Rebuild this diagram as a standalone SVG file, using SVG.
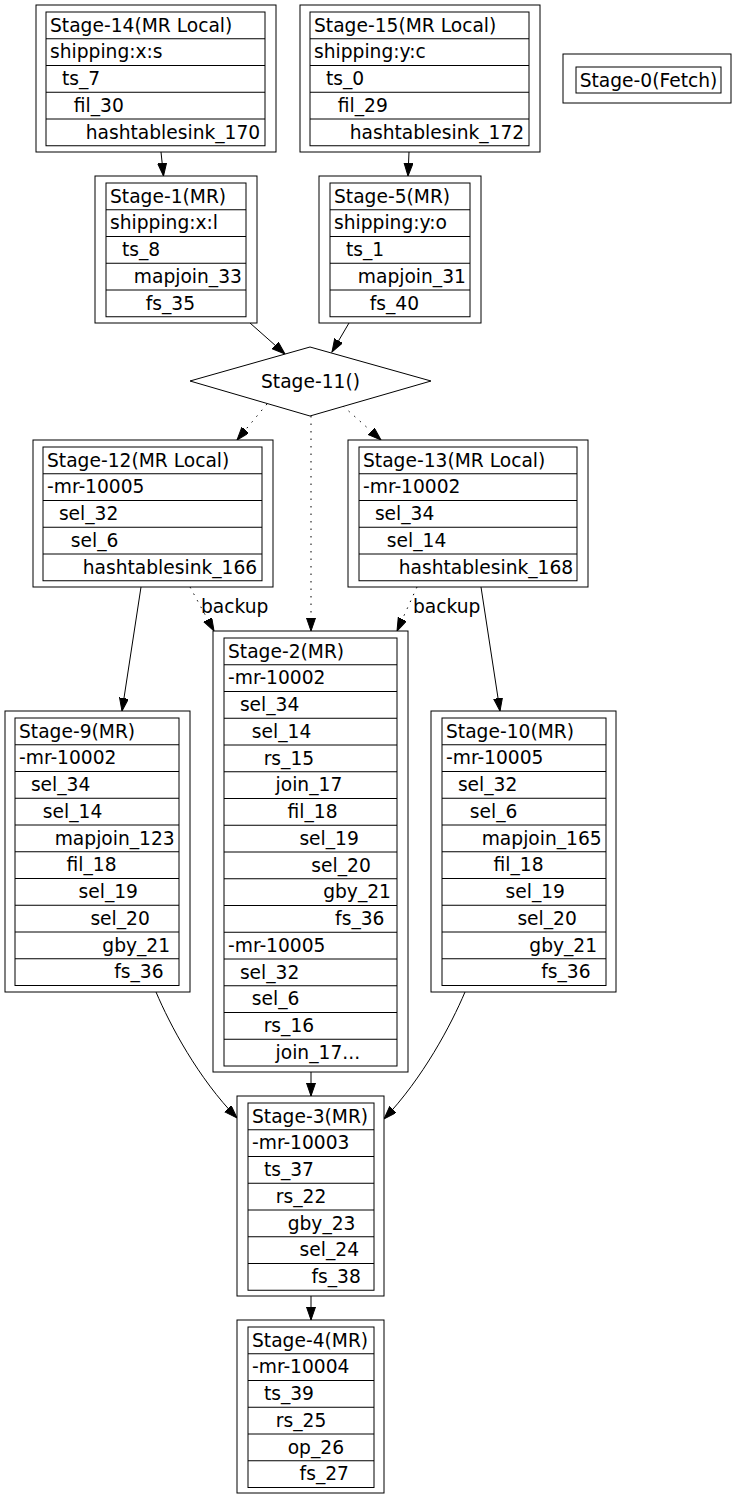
<svg xmlns="http://www.w3.org/2000/svg" width="737" height="1499" viewBox="0 0 737 1499">
<style>
.o{fill:#fff;stroke:#000;stroke-width:1}
.i{fill:none;stroke:#000;stroke-width:1}
text{font-family:"DejaVu Sans",sans-serif;font-size:18.67px;fill:#000}
.c{text-anchor:middle}
.e{fill:none;stroke:#000;stroke-width:1}
.d{stroke-dasharray:1.5,6}
</style>
<defs>
<marker id="ah" markerUnits="userSpaceOnUse" markerWidth="14" markerHeight="10" refX="13" refY="4.5" orient="auto" viewBox="0 0 14 10">
<path d="M0,0 L13,4.5 L0,9 Z" fill="#000" stroke="#000" stroke-width="1"/>
</marker>
</defs>
<rect x="0" y="0" width="737" height="1499" fill="#fff"/>

<g id="edges">
<path class="e" d="M161,152 L163.5,176" marker-end="url(#ah)"/>
<path class="e" d="M409,152 L408,176" marker-end="url(#ah)"/>
<path class="e" d="M250,323 L285,354" marker-end="url(#ah)"/>
<path class="e" d="M349,323 L332,352" marker-end="url(#ah)"/>
<path class="e d" d="M267,404 L237,440" marker-end="url(#ah)"/>
<path class="e d" d="M311,416 L311,631" marker-end="url(#ah)"/>
<path class="e d" d="M343,406 L381,440" marker-end="url(#ah)"/>
<path class="e" d="M141,587 L122,711" marker-end="url(#ah)"/>
<path class="e d" d="M190,587 L214,631" marker-end="url(#ah)"/>
<text x="201" y="613">backup</text>
<path class="e d" d="M417,587 L397,631" marker-end="url(#ah)"/>
<text x="413" y="613">backup</text>
<path class="e" d="M481,587 L500,711" marker-end="url(#ah)"/>
<path class="e" d="M156,992 C170,1025 198,1078 237,1118" marker-end="url(#ah)"/>
<path class="e" d="M311,1072 L311,1096" marker-end="url(#ah)"/>
<path class="e" d="M465,992 C451,1025 423,1078 384,1119" marker-end="url(#ah)"/>
<path class="e" d="M311,1296 L311,1320" marker-end="url(#ah)"/>
</g>

<g id="stage14">
<rect class="o" x="36" y="5" width="240" height="147"/>
<rect class="i" x="46" y="12" width="219" height="133.75"/>
<path class="i" d="M46,38.75H265M46,65.5H265M46,92.25H265M46,119H265"/>
<text x="50" y="31.5">Stage-14(MR Local)</text>
<text x="50" y="58.25">shipping:x:s</text>
<text x="61.9" y="85">ts_7</text>
<text x="73.8" y="111.75">fil_30</text>
<text x="85.7" y="138.5">hashtablesink_170</text>
</g>

<g id="stage15">
<rect class="o" x="300" y="5" width="240" height="147"/>
<rect class="i" x="310" y="12" width="219" height="133.75"/>
<path class="i" d="M310,38.75H529M310,65.5H529M310,92.25H529M310,119H529"/>
<text x="314" y="31.5">Stage-15(MR Local)</text>
<text x="314" y="58.25">shipping:y:c</text>
<text x="325.9" y="85">ts_0</text>
<text x="337.8" y="111.75">fil_29</text>
<text x="349.7" y="138.5">hashtablesink_172</text>
</g>

<g id="stage0">
<rect class="o" x="563" y="54" width="168" height="49"/>
<rect class="i" x="576" y="67" width="145" height="26"/>
<text class="c" x="648.5" y="86.5">Stage-0(Fetch)</text>
</g>

<g id="stage1">
<rect class="o" x="95" y="176" width="162" height="147"/>
<rect class="i" x="106" y="183" width="140" height="133.75"/>
<path class="i" d="M106,209.75H246M106,236.5H246M106,263.25H246M106,290H246"/>
<text x="110" y="202.5">Stage-1(MR)</text>
<text x="110" y="229.25">shipping:x:l</text>
<text x="121.9" y="256">ts_8</text>
<text x="133.8" y="282.75">mapjoin_33</text>
<text x="145.7" y="309.5">fs_35</text>
</g>

<g id="stage5">
<rect class="o" x="319" y="176" width="162" height="147"/>
<rect class="i" x="330" y="183" width="140" height="133.75"/>
<path class="i" d="M330,209.75H470M330,236.5H470M330,263.25H470M330,290H470"/>
<text x="334" y="202.5">Stage-5(MR)</text>
<text x="334" y="229.25">shipping:y:o</text>
<text x="345.9" y="256">ts_1</text>
<text x="357.8" y="282.75">mapjoin_31</text>
<text x="369.7" y="309.5">fs_40</text>
</g>

<g id="stage11">
<polygon class="o" points="190,381 310,347 431,381 310,416"/>
<text class="c" x="310.5" y="388">Stage-11()</text>
</g>

<g id="stage12">
<rect class="o" x="33" y="440" width="240" height="147"/>
<rect class="i" x="43" y="447" width="219" height="133.75"/>
<path class="i" d="M43,473.75H262M43,500.5H262M43,527.25H262M43,554H262"/>
<text x="47" y="466.5">Stage-12(MR Local)</text>
<text x="47" y="493.25">-mr-10005</text>
<text x="58.9" y="520">sel_32</text>
<text x="70.8" y="546.75">sel_6</text>
<text x="82.7" y="573.5">hashtablesink_166</text>
</g>

<g id="stage13">
<rect class="o" x="348" y="440" width="240" height="147"/>
<rect class="i" x="359" y="447" width="218" height="133.75"/>
<path class="i" d="M359,473.75H577M359,500.5H577M359,527.25H577M359,554H577"/>
<text x="363" y="466.5">Stage-13(MR Local)</text>
<text x="363" y="493.25">-mr-10002</text>
<text x="374.9" y="520">sel_34</text>
<text x="386.8" y="546.75">sel_14</text>
<text x="398.7" y="573.5">hashtablesink_168</text>
</g>

<g id="stage2">
<rect class="o" x="213" y="631" width="195" height="441"/>
<rect class="i" x="224" y="638" width="173" height="428"/>
<path class="i" d="M224,664.75H397M224,691.5H397M224,718.25H397M224,745H397M224,771.75H397M224,798.5H397M224,825.25H397M224,852H397M224,878.75H397M224,905.5H397M224,932.25H397M224,959H397M224,985.75H397M224,1012.5H397M224,1039.25H397"/>
<text x="228" y="657.5">Stage-2(MR)</text>
<text x="228" y="684.25">-mr-10002</text>
<text x="239.9" y="711">sel_34</text>
<text x="251.8" y="737.75">sel_14</text>
<text x="263.7" y="764.5">rs_15</text>
<text x="275.6" y="791.25">join_17</text>
<text x="287.5" y="818">fil_18</text>
<text x="299.4" y="844.75">sel_19</text>
<text x="311.3" y="871.5">sel_20</text>
<text x="323.2" y="898.25">gby_21</text>
<text x="335.1" y="925">fs_36</text>
<text x="228" y="951.75">-mr-10005</text>
<text x="239.9" y="978.5">sel_32</text>
<text x="251.8" y="1005.25">sel_6</text>
<text x="263.7" y="1032">rs_16</text>
<text x="275.6" y="1058.75">join_17...</text>
</g>

<g id="stage9">
<rect class="o" x="5" y="711" width="185" height="281"/>
<rect class="i" x="15" y="718" width="164" height="267.5"/>
<path class="i" d="M15,744.75H179M15,771.5H179M15,798.25H179M15,825H179M15,851.75H179M15,878.5H179M15,905.25H179M15,932H179M15,958.75H179"/>
<text x="19" y="737.5">Stage-9(MR)</text>
<text x="19" y="764.25">-mr-10002</text>
<text x="30.9" y="791">sel_34</text>
<text x="42.8" y="817.75">sel_14</text>
<text x="54.7" y="844.5">mapjoin_123</text>
<text x="66.6" y="871.25">fil_18</text>
<text x="78.5" y="898">sel_19</text>
<text x="90.4" y="924.75">sel_20</text>
<text x="102.3" y="951.5">gby_21</text>
<text x="114.2" y="978.25">fs_36</text>
</g>

<g id="stage10">
<rect class="o" x="431" y="711" width="185" height="281"/>
<rect class="i" x="442" y="718" width="164" height="267.5"/>
<path class="i" d="M442,744.75H606M442,771.5H606M442,798.25H606M442,825H606M442,851.75H606M442,878.5H606M442,905.25H606M442,932H606M442,958.75H606"/>
<text x="446" y="737.5">Stage-10(MR)</text>
<text x="446" y="764.25">-mr-10005</text>
<text x="457.9" y="791">sel_32</text>
<text x="469.8" y="817.75">sel_6</text>
<text x="481.7" y="844.5">mapjoin_165</text>
<text x="493.6" y="871.25">fil_18</text>
<text x="505.5" y="898">sel_19</text>
<text x="517.4" y="924.75">sel_20</text>
<text x="529.3" y="951.5">gby_21</text>
<text x="541.2" y="978.25">fs_36</text>
</g>

<g id="stage3">
<rect class="o" x="237" y="1096" width="147" height="200"/>
<rect class="i" x="248" y="1103" width="126" height="187.25"/>
<path class="i" d="M248,1129.75H374M248,1156.5H374M248,1183.25H374M248,1210H374M248,1236.75H374M248,1263.5H374"/>
<text x="252" y="1122.5">Stage-3(MR)</text>
<text x="252" y="1149.25">-mr-10003</text>
<text x="263.9" y="1176">ts_37</text>
<text x="275.8" y="1202.75">rs_22</text>
<text x="287.7" y="1229.5">gby_23</text>
<text x="299.6" y="1256.25">sel_24</text>
<text x="311.5" y="1283">fs_38</text>
</g>

<g id="stage4">
<rect class="o" x="237" y="1320" width="147" height="173"/>
<rect class="i" x="248" y="1327" width="126" height="160.5"/>
<path class="i" d="M248,1353.75H374M248,1380.5H374M248,1407.25H374M248,1434H374M248,1460.75H374"/>
<text x="252" y="1346.5">Stage-4(MR)</text>
<text x="252" y="1373.25">-mr-10004</text>
<text x="263.9" y="1400">ts_39</text>
<text x="275.8" y="1426.75">rs_25</text>
<text x="287.7" y="1453.5">op_26</text>
<text x="299.6" y="1480.25">fs_27</text>
</g>
</svg>
